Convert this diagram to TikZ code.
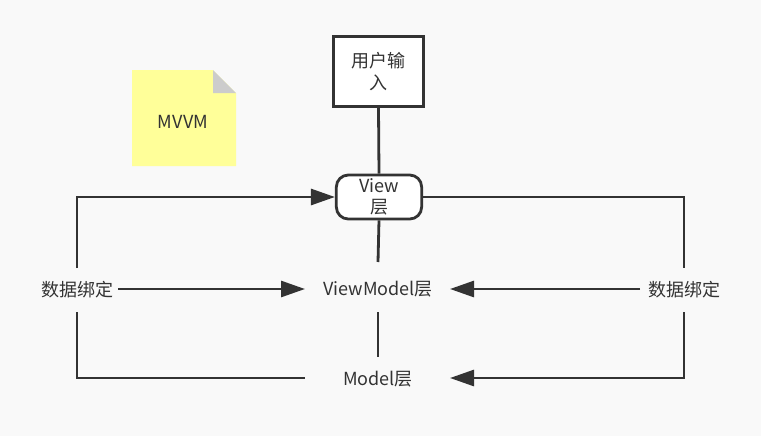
\documentclass[tikz,border=0pt]{standalone}
\usepackage{fontspec}
\setmainfont{Noto Sans CJK SC}
\usetikzlibrary{arrows.meta}
\definecolor{ln}{HTML}{333333}
\begin{document}
\begin{tikzpicture}[x=0.75pt,y=-0.75pt,
  line/.style={draw=ln,line width=2.1pt},
  arr/.style={line,-{Triangle[length=18pt,width=12pt]}},
  lbl/.style={text=ln,font=\fontsize{13.5}{16}\selectfont,align=center,inner sep=0pt}]
\fill[fill={rgb,255:red,249;green,249;blue,249}] (0,0) rectangle (761,436);
\useasboundingbox (0,0) rectangle (761,436);
% note
\fill[fill={rgb,255:red,255;green,255;blue,153}] (132,70) -- (213,70) -- (236,93) -- (236,166) -- (132,166) -- cycle;
\fill[fill={rgb,255:red,204;green,204;blue,204}] (213,70) -- (236,93) -- (213,93) -- cycle;
\node[lbl] (mvvm) at (183,122) {MVVM};
% nodes
\node[line,fill=white,minimum width=68pt,minimum height=53pt,lbl,text width=50pt] (user) at (378.5,71.5) {用户输\\入};
\node[line,fill=white,rounded corners=9pt,minimum width=64pt,minimum height=33pt,lbl] (view) at (379,197) {View\\层};
\node[lbl] (vm) at (378,289) {ViewModel层};
\node[lbl] (model) at (378,379) {Model层};
\node[lbl] (bl) at (77,290) {数据绑定};
\node[lbl] (br) at (684,290) {数据绑定};
\coordinate (c1) at (77,197);
\coordinate (c2) at (77,378);
\coordinate (c3) at (684,197);
\coordinate (c4) at (684,378);
% connectors
\draw[line] (user.south) -- (view.north);
\draw[line] (view.south) -- (378,262);
\draw[line] (378,312) -- (378,357);
\draw[arr] (77,268) -- (c1) -- (view.west);
\draw[arr] (118,289) -- (305,289);
\draw[line] (77,312) -- (c2) -- (305,378);
\draw[line] (view.east) -- (c3) -- (684,268);
\draw[arr] (640,289) -- (450,289);
\draw[arr] (684,312) -- (c4) -- (450,378);
\end{tikzpicture}
\end{document}
